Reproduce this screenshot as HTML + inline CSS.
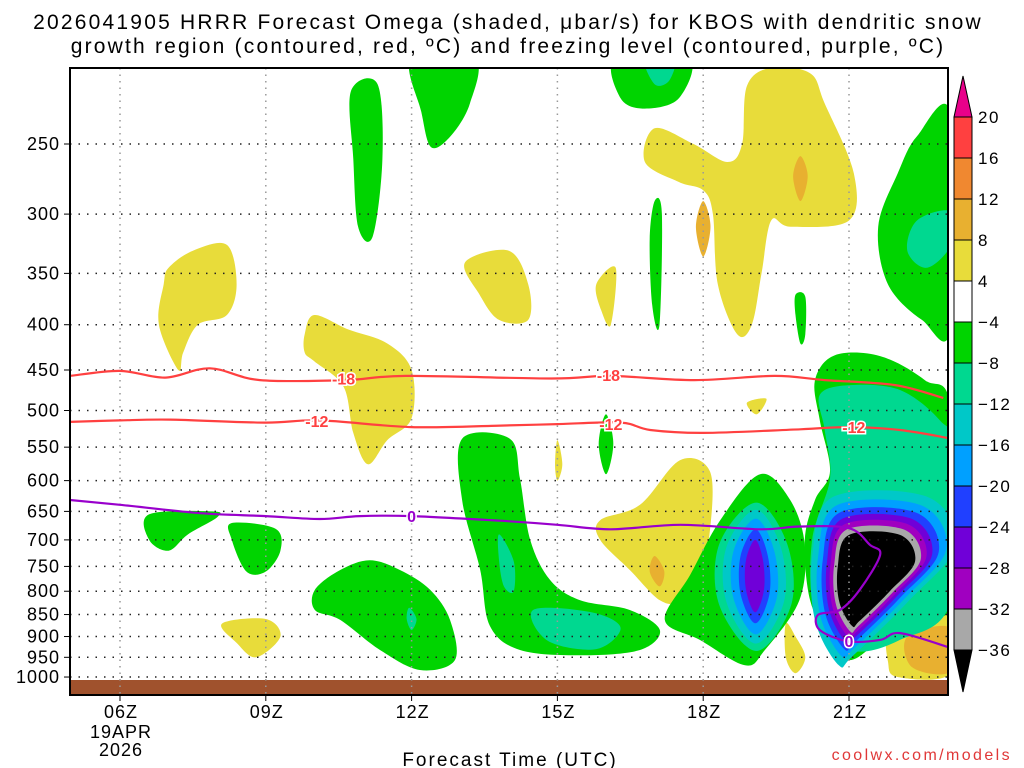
<!DOCTYPE html>
<html><head><meta charset="utf-8"><style>
html,body{margin:0;padding:0;background:#fff;}
svg{display:block;font-family:"Liberation Sans","DejaVu Sans",sans-serif;}
</style></head><body>
<svg id="chart" width="1024" height="768" viewBox="0 0 1024 768">
<defs><clipPath id="plotclip"><rect x="70" y="68" width="878" height="627"/></clipPath></defs>
<g font-size="21" text-anchor="middle" fill="#000" letter-spacing="2.2">
<text x="508" y="29">2026041905 HRRR Forecast Omega (shaded, μbar/s) for KBOS with dendritic snow</text>
<text x="508" y="53">growth region (contoured, red, ºC) and freezing level (contoured, purple, ºC)</text>
</g>
<g id="shades" clip-path="url(#plotclip)"></g>
<rect x="70" y="680" width="878" height="15" fill="#a0522d"/>
<g id="grid"></g>
<g id="lines" clip-path="url(#plotclip)"></g>
<g id="axes"></g>
<rect x="70" y="68" width="878" height="627" fill="none" stroke="#000" stroke-width="2"/>
<g id="cbar"></g>
<text x="510" y="766" font-size="19" letter-spacing="2" text-anchor="middle">Forecast Time (UTC)</text>
<text x="1012" y="760" font-size="16" letter-spacing="2.4" text-anchor="end" fill="#e03838">coolwx.com/models</text>
</svg>
<script>
const hourTicks=[6,9,12,15,18,21];
const hourLabels=["06Z","09Z","12Z","15Z","18Z","21Z"];
const pressTicks=[250,300,350,400,450,500,550,600,650,700,750,800,850,900,950,1000];
const cbarLevels=["20","16","12","8","4","-4","-8","-12","-16","-20","-24","-28","-32","-36"];
const cbarColors=["#ff4040","#f08830","#e8b030","#e8dc3a","#ffffff","#00d400","#00d890","#00c8c8","#00a0ff","#2040ff","#7000d8","#a000c0","#a8a8a8"];
const C={y:"#e8dc3a",o:"#e8b030",g:"#00d400",t:"#00d890",c:"#00c8c8",lb:"#00a0ff",b:"#2040ff",p:"#7000d8",m:"#a000c0",gr:"#a8a8a8",k:"#000000"};
const blobs=[
["g",[[12.0,200],[13.3,200],[13.2,225],[12.8,245],[12.4,252],[12.2,230]]],
["g",[[10.75,218],[11.3,214],[11.4,260],[11.2,318],[10.9,310],[10.8,260]]],
["g",[[16.2,200],[17.7,200],[17.5,222],[16.8,228],[16.3,222]]],
["t",[[16.8,200],[17.4,200],[17.3,212],[17.0,214]]],
["y",[[16.8,262],[17.0,240],[17.8,250],[18.5,262],[18.8,250],[18.9,215],[19.4,205],[20.2,208],[20.5,225],[21.1,270],[21.0,305],[19.8,310],[19.4,305],[19.2,350],[19.0,400],[18.7,410],[18.3,360],[18.2,300],[18.0,282],[17.5,276]]],
["o",[[20.0,258],[20.15,272],[20.0,290],[19.85,272]]],
["o",[[18.0,290],[18.15,310],[18.0,335],[17.85,310]]],
["g",[[23.1,232],[22.4,245],[22.0,270],[21.6,310],[21.8,360],[22.5,395],[23.1,402]]],
["t",[[22.2,330],[22.4,305],[23.1,298],[23.1,325],[22.6,345]]],
["y",[[6.9,360],[7.0,345],[7.5,330],[8.2,325],[8.4,360],[8.2,390],[7.6,400],[7.3,430],[7.2,450],[6.8,400]]],
["y",[[13.1,340],[14.0,330],[14.4,360],[14.4,395],[13.8,395],[13.4,370]]],
["y",[[15.8,360],[16.2,345],[16.1,400],[15.9,385]]],
["g",[[17.0,290],[17.15,300],[17.1,400],[16.95,380],[16.9,320]]],
["g",[[19.9,370],[20.1,372],[20.1,410],[20.0,420],[19.9,390]]],
["y",[[9.8,410],[10.0,390],[10.7,405],[11.5,420],[12.0,450],[12.0,510],[11.5,540],[11.1,575],[10.8,530],[10.6,470],[10.0,440],[9.8,430]]],
["y",[[18.9,490],[19.3,485],[19.1,505]]],
["y",[[15.0,540],[15.1,575],[15.0,600],[14.95,575]]],
["g",[[16.0,505],[16.15,545],[16.0,590],[15.85,545]]],
["g",[[13.04,538],[14.02,538],[14.23,597],[14.44,700],[14.85,777],[15.47,819],[16.49,840],[17.11,885],[16.7,932],[15.47,945],[14.23,932],[13.61,875],[13.41,756],[13.04,631]]],
["t",[[13.8,690],[14.1,740],[14.1,800],[13.9,790],[13.8,740]]],
["t",[[14.5,840],[15.7,845],[16.3,880],[15.8,930],[14.8,910]]],
["g",[[10.01,797],[10.53,757],[11.14,738],[11.76,757],[12.38,797],[12.79,862],[12.89,957],[12.17,982],[11.35,932],[10.53,862],[10.01,840]]],
["t",[[11.95,835],[12.1,860],[12.0,885],[11.9,860]]],
["g",[[6.6,655],[7.9,650],[8.0,660],[7.4,690],[7.0,720],[6.6,700]]],
["g",[[8.3,670],[9.2,680],[9.3,720],[9.0,760],[8.6,760],[8.3,700]]],
["y",[[8.1,870],[9.0,860],[9.3,900],[8.8,950],[8.4,915]]],
["y",[[15.88,665],[16.7,639],[17.52,569],[18.14,586],[18.14,682],[17.93,757],[17.52,819],[17.11,819],[16.49,757],[15.88,700]]],
["o",[[17.0,730],[17.2,760],[17.1,790],[16.9,760]]],
["y",[[19.7,870],[19.9,900],[20.1,950],[19.9,990],[19.7,950]]],
["y",[[21.8,880],[22.3,850],[23.1,850],[23.1,990],[22.0,1000],[21.8,960]]],
["o",[[22.2,900],[23.1,880],[23.1,985],[22.3,975]]],
["g",[[19.17,590],[19.79,631],[20.09,709],[19.98,819],[19.27,932],[18.86,970],[17.93,908],[17.21,862],[17.73,767],[18.35,665]]],
["g",[[20.3,462],[20.71,433],[21.64,434],[22.56,462],[23.1,500],[23.1,819],[22.46,840],[21.64,908],[21.02,957],[20.61,908],[20.2,819],[20.09,700],[20.3,631],[20.61,586],[20.4,513]]],
["t",[[20.4,480],[21.02,468],[22.05,474],[22.87,513],[23.1,554],[23.1,819],[22.05,908],[21.02,932],[20.3,840],[20.24,700],[20.61,597],[20.5,526]]]
];
const core19=[[19.07,700],[19.23,738],[19.25,797],[19.07,845],[18.88,797],[18.88,738]];
const rings19=[["t",4.0,2.05],["c",3.2,1.85],["lb",2.4,1.6],["b",1.6,1.3],["p",1,1]];
const core21=[[21.0,691],[22.05,691],[22.36,740],[21.84,800],[21.22,864],[21.06,875],[20.8,822],[20.77,750]];
const rings21=[["c",1.85,1.85],["lb",1.66,1.66],["b",1.5,1.5],["p",1.36,1.36],["m",1.24,1.24],["gr",1.12,1.12],["k",1,1]];
const hrs=[4.97,6.0,6.93,7.85,8.88,10.63,11.88,14.88,16.07,17.82,19.47,20.5,21.95,22.94];
const minus18=[457,451,459,448,462,462,457,460,457,462,457,462,468,484];
const minus12=[[4.97,515],[6.0,513],[7.03,512],[8.98,516],[10.11,513],[12.0,522],[13.83,520],[15.0,518],[16.3,516],[16.91,526],[18.0,530],[20.0,525],[21.0,522],[22.05,526],[23.04,537]];
const zeroLine=[[4.97,631],[6.0,639],[7.65,653],[9.0,658],[10.11,663],[10.93,658],[12.0,658],[13.83,666],[15.0,673],[16.09,681],[17.53,673],[19.17,681],[19.98,676],[21.0,679],[21.43,709],[21.64,728],[21.22,797],[20.81,840],[20.36,851],[20.4,885],[20.97,911],[21.64,908],[22.05,892],[23.04,925]];
const lineLabels=[["-18",10.6,460,"#ff4040"],["-18",16.05,456,"#ff4040"],["-12",10.05,514,"#ff4040"],["-12",16.1,518,"#ff4040"],["-12",21.1,522,"#ff4040"],["0",12.0,658,"#9900cc"],["0",21.0,911,"#9900cc"]];

const X0=120,XH=48.6,Y250=144,YL=384.5;
const xs=h=>X0+(h-6)*XH;
const ys=p=>Y250+Math.log(p/250)*YL;
const NS="http://www.w3.org/2000/svg";
function mk(tag,attrs,parent){const e=document.createElementNS(NS,tag);for(const k in attrs)e.setAttribute(k,attrs[k]);parent.appendChild(e);return e;}
function smoothClosed(pts){let d="";const n=pts.length;for(let i=0;i<n;i++){const p0=pts[(i-1+n)%n],p1=pts[i],p2=pts[(i+1)%n],p3=pts[(i+2)%n];if(i===0)d+="M"+p1[0].toFixed(1)+","+p1[1].toFixed(1);const c1=[p1[0]+(p2[0]-p0[0])/6,p1[1]+(p2[1]-p0[1])/6],c2=[p2[0]-(p3[0]-p1[0])/6,p2[1]-(p3[1]-p1[1])/6];d+="C"+c1.map(v=>v.toFixed(1))+" "+c2.map(v=>v.toFixed(1))+" "+p2.map(v=>v.toFixed(1));}return d+"Z";}
function smoothOpen(pts){let d="M"+pts[0][0].toFixed(1)+","+pts[0][1].toFixed(1);for(let i=0;i<pts.length-1;i++){const p0=pts[Math.max(i-1,0)],p1=pts[i],p2=pts[i+1],p3=pts[Math.min(i+2,pts.length-1)];const c1=[p1[0]+(p2[0]-p0[0])/6,p1[1]+(p2[1]-p0[1])/6],c2=[p2[0]-(p3[0]-p1[0])/6,p2[1]-(p3[1]-p1[1])/6];d+="C"+c1.map(v=>v.toFixed(1))+" "+c2.map(v=>v.toFixed(1))+" "+p2.map(v=>v.toFixed(1));}return d;}
const sh=document.getElementById("shades");
blobs.forEach((b,i)=>{const pts=b[1].map(q=>[xs(q[0]),ys(q[1])]);const e=mk("path",{d:smoothClosed(pts),fill:C[b[0]]},sh);

});
function drawCore(core,rings,name){const pts=core.map(q=>[xs(q[0]),ys(q[1])]);const cx=pts.reduce((a,p)=>a+p[0],0)/pts.length,cy=pts.reduce((a,p)=>a+p[1],0)/pts.length;
rings.forEach((r,i)=>{const sp=pts.map(p=>[cx+(p[0]-cx)*r[1],cy+(p[1]-cy)*r[2]]);const e=mk("path",{d:smoothClosed(sp),fill:C[r[0]]},sh);

});}
drawCore(core19,rings19,"core-19z");
drawCore(core21,rings21,"core-21z");
const gr=document.getElementById("grid");
hourTicks.forEach(h=>{const e=mk("line",{x1:xs(h),x2:xs(h),y1:68,y2:695,stroke:"#999","stroke-dasharray":"1.5,5","stroke-width":1.5},gr);

});
pressTicks.forEach(p=>{const e=mk("line",{x1:70,x2:948,y1:ys(p),y2:ys(p),stroke:"#222","stroke-dasharray":"1.5,7","stroke-width":1.5},gr);

});
const ln=document.getElementById("lines");
function line(pts,col,name){const e=mk("path",{d:smoothOpen(pts.map(q=>[xs(q[0]),ys(q[1])])),fill:"none",stroke:col,"stroke-width":2.2},ln);

}
line(hrs.map((h,i)=>[h,minus18[i]]),"#ff4040","contour-minus18");
line(minus12,"#ff4040","contour-minus12");
line(zeroLine,"#9900cc","freezing-level-0c");
lineLabels.forEach(l=>{const x=xs(l[1]),y=ys(l[2]);
const t=mk("text",{x:x,y:y+6,"text-anchor":"middle","font-size":16,"font-weight":"bold",fill:l[3],stroke:"#fff","stroke-width":3,"paint-order":"stroke"},ln);t.textContent=l[0];

});
const ax=document.getElementById("axes");
pressTicks.forEach(p=>{mk("line",{x1:64,x2:70,y1:ys(p),y2:ys(p),stroke:"#000"},ax);const t=mk("text",{x:60,y:ys(p)+6,"text-anchor":"end","font-size":18,"letter-spacing":1},ax);t.textContent=p;

});
hourTicks.forEach((h,i)=>{mk("line",{x1:xs(h),x2:xs(h),y1:695,y2:701,stroke:"#000"},ax);const t=mk("text",{x:xs(h)+1,y:718,"text-anchor":"middle","font-size":18,"letter-spacing":1},ax);t.textContent=hourLabels[i];

});
const d1=mk("text",{x:xs(6)+1,y:738,"text-anchor":"middle","font-size":18,"letter-spacing":1},ax);d1.textContent="19APR";


const d2=mk("text",{x:xs(6)+1,y:756,"text-anchor":"middle","font-size":18,"letter-spacing":1},ax);d2.textContent="2026";


const cb=document.getElementById("cbar");
const bx=954,bw=18,by0=117,bh=41;
const tri=mk("path",{d:`M${bx},${by0} L${bx+bw/2},76 L${bx+bw},${by0}Z`,fill:"#e8008a",stroke:"#000"},cb);


cbarColors.forEach((c,i)=>{const r=mk("rect",{x:bx,y:by0+i*bh,width:bw,height:bh,fill:c,stroke:"#000"},cb);

});
const yb=by0+cbarColors.length*bh;
const tri2=mk("path",{d:`M${bx},${yb} L${bx+bw/2},692 L${bx+bw},${yb}Z`,fill:"#000",stroke:"#000"},cb);


cbarLevels.forEach((l,i)=>{const t=mk("text",{x:978,y:by0+i*bh+6,"font-size":17,"letter-spacing":1.5},cb);t.textContent=l.replace("-","−");

});
</script>
</body></html>
